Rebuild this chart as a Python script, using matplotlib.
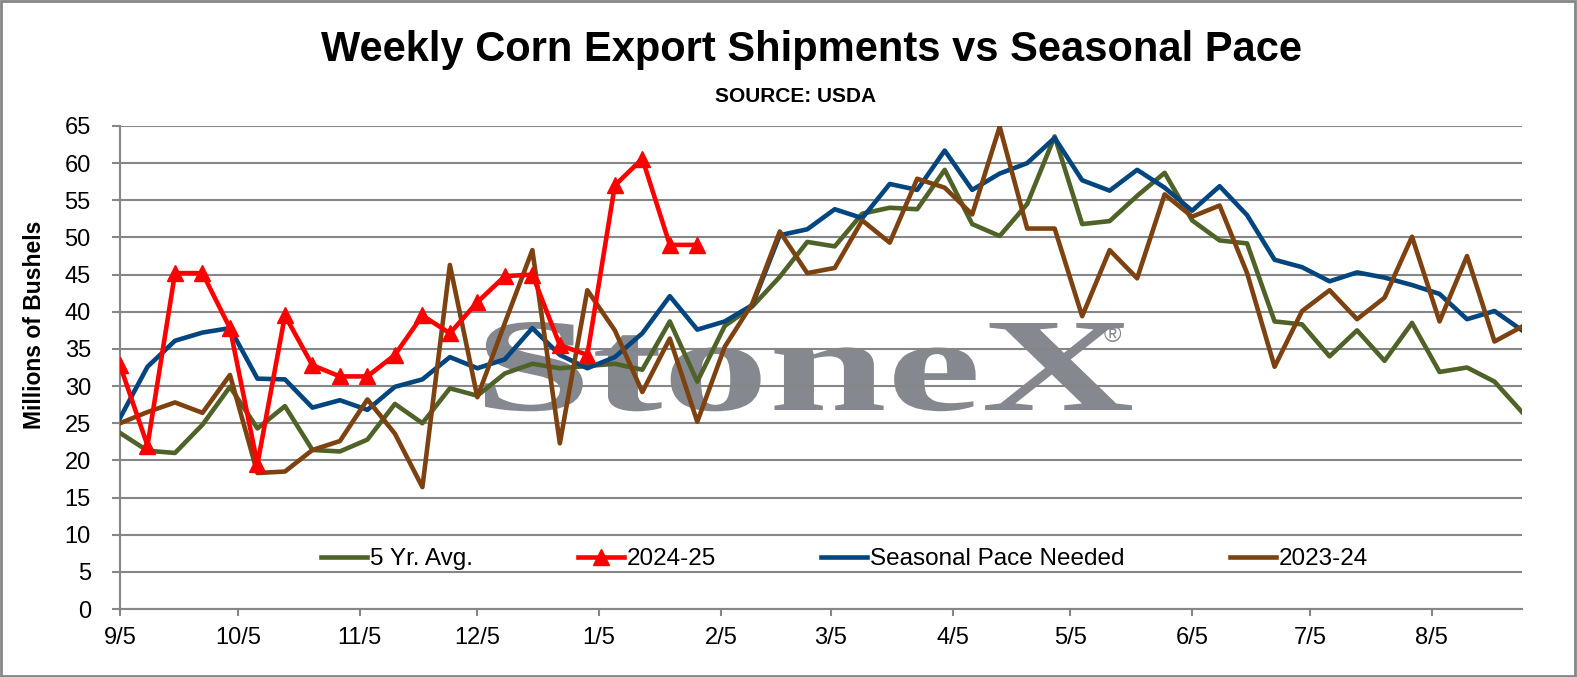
import matplotlib
matplotlib.use("Agg")
import matplotlib.pyplot as plt
import pandas as pd
from matplotlib.font_manager import FontProperties
from matplotlib.textpath import TextPath
from matplotlib.patches import PathPatch, Rectangle
from matplotlib.transforms import Affine2D

# ---------------- data ----------------
start_date = "2024-09-05"
n_weeks = 52
five_yr_avg = [23.7, 21.3, 21.0, 24.8, 29.9, 24.3, 27.3, 21.4, 21.2, 22.8, 27.6, 25.0, 29.7,
               28.7, 31.7, 33.0, 32.4, 32.7, 33.0, 32.2, 38.7, 30.6, 38.1, 40.7, 44.7, 49.4,
               48.8, 53.2, 54.0, 53.8, 59.1, 51.8, 50.2, 54.5, 63.6, 51.8, 52.2, 55.6, 58.7,
               52.3, 49.6, 49.2, 38.7, 38.3, 34.0, 37.5, 33.4, 38.5, 31.9, 32.5, 30.6, 26.5]
y2024_25 = [32.8, 22.0, 45.2, 45.2, 37.8, 19.5, 39.5, 32.8, 31.3, 31.3, 34.2, 39.5, 37.1,
            41.3, 44.8, 45.0, 35.5, 34.2, 57.0, 60.6, 49.0, 49.0]
seasonal_pace = [25.7, 32.6, 36.1, 37.2, 37.8, 31.0, 30.9, 27.1, 28.1, 26.8, 29.9, 30.9, 33.9,
                 32.4, 33.6, 37.8, 34.2, 32.4, 33.9, 37.1, 42.1, 37.6, 38.7, 40.9, 50.3, 51.1,
                 53.8, 52.6, 57.2, 56.4, 61.7, 56.4, 58.6, 60.0, 63.4, 57.7, 56.3, 59.1, 56.7,
                 53.6, 56.9, 53.0, 47.0, 46.0, 44.1, 45.3, 44.6, 43.6, 42.4, 39.0, 40.1, 37.5]
y2023_24 = [25.0, 26.5, 27.8, 26.4, 31.5, 18.3, 18.5, 21.4, 22.6, 28.2, 23.6, 16.4, 46.3,
            28.5, 38.5, 48.3, 22.3, 42.9, 37.5, 29.2, 36.4, 25.2, 35.3, 41.1, 50.8, 45.2,
            45.9, 52.3, 49.3, 57.9, 56.7, 53.1, 64.9, 51.2, 51.2, 39.4, 48.3, 44.5, 55.8,
            52.8, 54.3, 45.2, 32.6, 40.1, 42.9, 39.0, 41.9, 50.1, 38.7, 47.5, 36.0, 38.0]
tick_dates = ["2024-09-05", "2024-10-05", "2024-11-05", "2024-12-05", "2025-01-05",
              "2025-02-05", "2025-03-05", "2025-04-05", "2025-05-05", "2025-06-05",
              "2025-07-05", "2025-08-05"]
tick_labels = ["9/5", "10/5", "11/5", "12/5", "1/5", "2/5", "3/5", "4/5", "5/5", "6/5",
               "7/5", "8/5"]
y_ticks = list(range(0, 66, 5))
series_names = ["5 Yr. Avg.", "2024-25", "Seasonal Pace Needed", "2023-24"]

# ---------------- figure ----------------
W, H, DPI = 1577, 677, 100
plt.rcParams['font.family'] = ['Liberation Sans', 'DejaVu Sans']
fig = plt.figure(figsize=(W / DPI, H / DPI), dpi=DPI)
ax = fig.add_axes([120 / W, 1 - 609 / H, (1522 - 120) / W, (609 - 126) / H])

t0 = pd.Timestamp(start_date)
weeks = pd.date_range(start_date, periods=n_weeks, freq="7D")
x_all = [(d - t0).days for d in weeks]
x_red = x_all[:len(y2024_25)]
tick_x = [(pd.Timestamp(d) - t0).days for d in tick_dates]

grey = "#868686"
lw = 3.3
ax.plot(x_all, five_yr_avg, color="#4F6228", lw=lw, zorder=3, label=series_names[0])
ax.plot(x_red, y2024_25, color="#FF0000", lw=lw, marker="^", markersize=12,
        zorder=6, label=series_names[1])
ax.plot(x_all, seasonal_pace, color="#03467F", lw=lw, zorder=4, label=series_names[2])
ax.plot(x_all, y2023_24, color="#7E4211", lw=lw, zorder=5, label=series_names[3])

ax.set_xlim(x_all[0], x_all[-1])
ax.set_ylim(0, 65)
ax.set_yticks(y_ticks)
ax.set_xticks(tick_x)
ax.set_xticklabels(tick_labels)
ax.set_axisbelow(True)
ax.grid(axis="y", color=grey, lw=1.5, zorder=0.5)
for s in ["top", "right"]:
    ax.spines[s].set_visible(False)
for s in ["left", "bottom"]:
    ax.spines[s].set_color(grey)
    ax.spines[s].set_linewidth(1.5)
ax.tick_params(axis="y", length=6, width=1.5, color=grey, labelsize=17, pad=15)
ax.tick_params(axis="x", length=5, width=1.5, color=grey, labelsize=17, pad=8)
ax.set_ylabel("Millions of Bushels", fontsize=16.5, fontweight="bold")
ax.yaxis.set_label_coords(46 / W, 1 - 325 / H, transform=fig.transFigure)

# title & subtitle
fig.text(811 / W, 1 - 50 / H, "Weekly Corn Export Shipments vs Seasonal Pace",
         ha="center", va="center", fontsize=30, fontweight="bold")
fig.text(796 / W, 1 - 97 / H, "SOURCE: USDA", ha="center", va="center",
         fontsize=15, fontweight="bold")

# watermark
fp = FontProperties(family="Liberation Serif", weight="bold")
tp = TextPath((0, 0), "StoneX", size=100, prop=fp)
bb = tp.get_extents()
sx = (1132 - 485) / bb.width
sy = 88 / bb.y1
tr = (Affine2D().translate(-bb.x0, 0).scale(sx, sy)
      .translate(485, H - 410).scale(1 / W, 1 / H))
wm = PathPatch(tr.transform_path(tp), facecolor="#85888F", edgecolor="none",
               transform=fig.transFigure, zorder=0.2, clip_on=False)
ax.add_patch(wm)
fig.text(1112 / W, 1 - 336 / H, "\u00ae", ha="center", va="center", fontsize=17,
         color="#85888F")

# legend
fs = 17.5
fs_px = fs * DPI / 72
ax.legend(loc="center left", bbox_to_anchor=(321 / W, 1 - 559 / H),
          bbox_transform=fig.transFigure, ncol=4, frameon=False, fontsize=fs,
          borderpad=0, borderaxespad=0, handlelength=46 / fs_px,
          handletextpad=3 / fs_px, columnspacing=105 / fs_px)

# outer border
fig.patches.append(Rectangle((0.0005, 0.001), 0.998, 0.997, transform=fig.transFigure,
                             fill=False, edgecolor=grey, lw=2))

fig.savefig("out.png", dpi=DPI)
